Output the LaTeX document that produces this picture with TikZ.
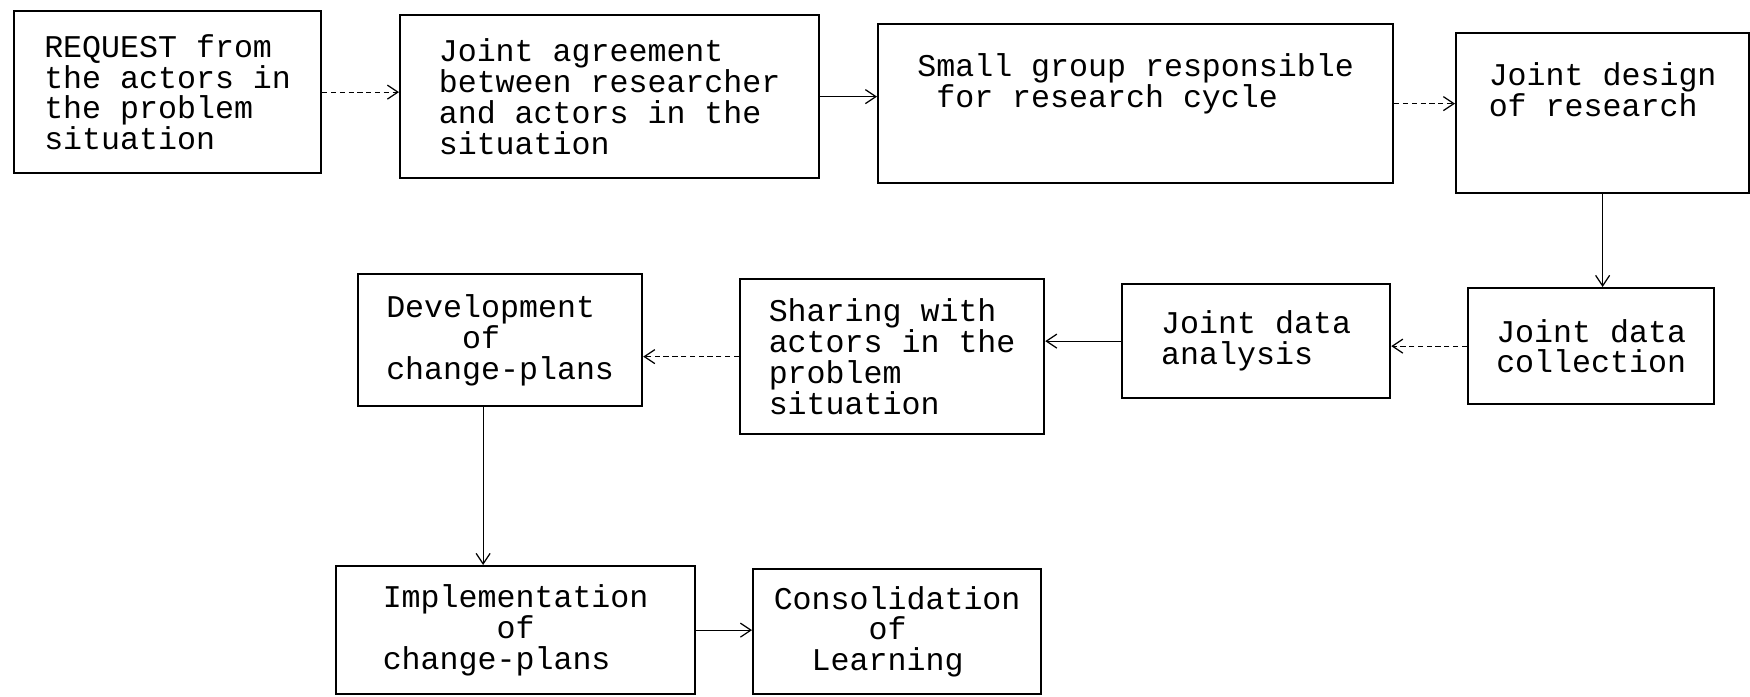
\documentclass[tikz,border=0pt]{standalone}
\usepackage{fontspec}
\setmonofont{Liberation Mono}
\usepackage{tikz}
\usetikzlibrary{arrows.meta}

\newcommand{\boxfont}{\ttfamily\fontsize{18}{17.5}\selectfont}

\begin{document}
\begin{tikzpicture}[x=0.02cm,y=-0.02cm,
		box/.style={draw, line width=1.3pt, anchor=north west, align=left, inner sep=0pt, font=\boxfont},
		link/.style={-{Straight Barb[length=6pt,width=8pt]}, line width=0.7pt},
		faint/.style={link, dash pattern=on 3pt off 2pt},
	]
		\useasboundingbox (0,0) rectangle (1750,696);

		% first row
		\node[box, minimum width=6.14cm, minimum height=3.24cm] (request) at (13,10)
			{REQUEST from\\the actors in\\the problem\\situation};
		\node[box, minimum width=8.38cm, minimum height=3.26cm] (agreement) at (399,14)
			{Joint agreement\\between researcher\\and actors in the\\situation};
		\node[box, minimum width=10.3cm, minimum height=3.18cm] (group) at (877,23)
			{Small group responsible\\\phantom{x}for research cycle\\[9pt]\mbox{}};
		\node[box, minimum width=5.86cm, minimum height=3.2cm] (design) at (1455,32)
			{Joint design\\of research\\[9pt]\mbox{}};

		% second row
		\node[box, minimum width=4.92cm, minimum height=2.32cm] (collection) at (1467,287)
			{Joint data\\collection};
		\node[box, minimum width=5.36cm, minimum height=2.28cm] (analysis) at (1121,283)
			{Joint data\\analysis};
		\node[box, minimum width=6.08cm, minimum height=3.1cm] (sharing) at (739,278)
			{Sharing with\\actors in the\\problem\\situation};
		\node[box, minimum width=5.68cm, minimum height=2.64cm] (development) at (357,273)
			{Development\\\phantom{xxxx}of\\change-plans};

		% third row
		\node[box, minimum width=7.18cm, minimum height=2.56cm] (implementation) at (335,565)
			{Implementation\\\phantom{xxxxxx}of\\change-plans};
		\node[box, minimum width=5.76cm, minimum height=2.5cm] (consolidation) at (752,568)
			{Consolidation\\\phantom{xxxxx}of\\\phantom{xx}Learning};

		\draw[faint] (request.east) -- (request.east -| agreement.west);
		\draw[link] (agreement.east) -- (agreement.east -| group.west);
		\draw[faint] (group.east) -- (group.east -| design.west);
		\draw[link] (design.south) -- (design.south |- collection.north);
		\draw[faint] (collection.west) -- (collection.west -| analysis.east);
		\draw[link] (analysis.west) -- (analysis.west -| sharing.east);
		\draw[faint] (sharing.west) -- (sharing.west -| development.east);
		\draw[link] ([xshift=-0.34cm]development.south) -- ([xshift=-0.34cm]development.south |- implementation.north);
		\draw[link] (implementation.east) -- (implementation.east -| consolidation.west);
	\end{tikzpicture}
\end{document}
